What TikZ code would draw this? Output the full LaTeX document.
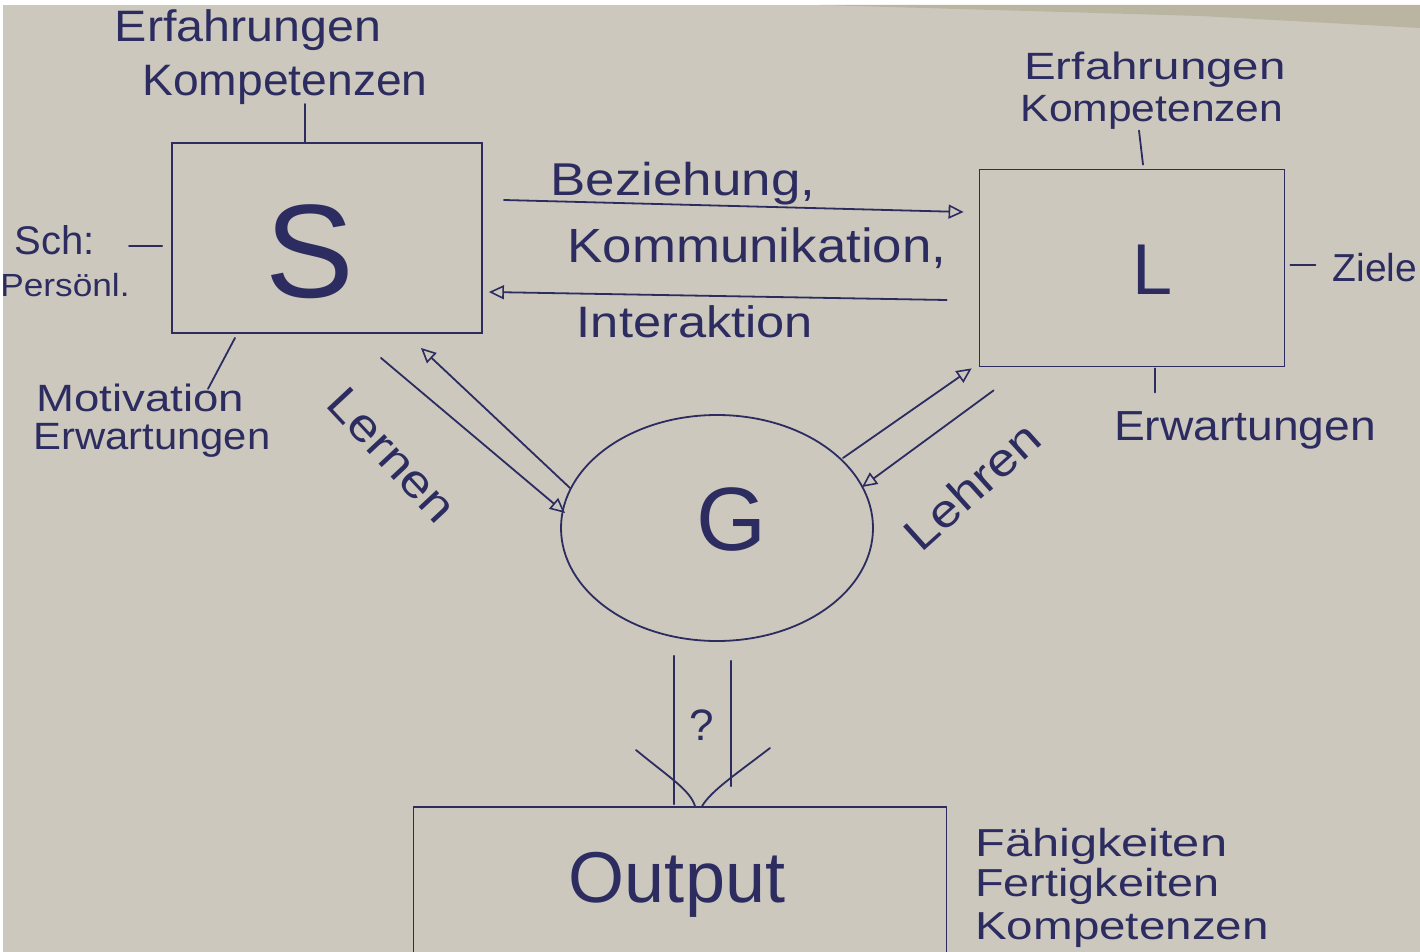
\documentclass[tikz,border=0pt]{standalone}
\usepackage{fontspec}
\usepackage{graphicx}
\setmainfont{Liberation Sans}
\usetikzlibrary{arrows.meta,shapes.geometric,calc}
\definecolor{paper}{RGB}{204,200,190}
\definecolor{edge}{RGB}{186,181,160}
\definecolor{ink}{RGB}{44,44,96}
\newcommand{\fs}[1]{\fontsize{#1}{#1}\selectfont}
\newcommand{\hs}[3]{\scalebox{#1}[1]{\fs{#2}#3}}
\tikzset{
  ink line/.style={draw=ink, line width=1.8pt, line cap=round},
  boxnode/.style={draw=ink, line width=1.8pt, inner sep=0pt},
  lbl/.style={text=ink, inner sep=0pt, anchor=center},
  arr/.style={ink line, -{Triangle[open, length=15pt, width=14pt, line width=1.6pt]}},
}
\begin{document}
\begin{tikzpicture}[x=1pt, y=-1pt]
\useasboundingbox (0,0) rectangle (1420,952);
\fill[white] (0,0) rectangle (1420,952);
\fill[paper] (3,5) rectangle (1420,952);
\fill[edge] (820,5) -- (1420,5) -- (1420,28) -- (1200,16) -- cycle;

% boxes
\node[boxnode, minimum width=310pt, minimum height=190pt] (S) at (327,238) {};
\node[lbl] (Stxt) at (310,252) {\fs{133}S};
\node[boxnode, minimum width=305pt, minimum height=197pt] (L) at (1132,268) {};
\node[lbl] (Ltxt) at (1153,270) {\fs{72}L};
\node[boxnode, ellipse, minimum width=312pt, minimum height=226pt] (G) at (717,528) {};
\node[lbl] (Gtxt) at (731,520) {\fs{90}G};
\node[boxnode, minimum width=533pt, minimum height=150pt] (O) at (680,882) {};
\node[lbl] (Otxt) at (677,885) {\fs{72}Output};

% S labels
\node[lbl] (se) at (248,30) {\hs{1.1}{44}{Erfahrungen}};
\node[lbl] (sk) at (285,85) {\hs{1.05}{44}{Kompetenzen}};
\draw[ink line] ($(S.north)+(-22,0)$) -- ++(0,-38);
\node[lbl] (sch) at (55,240) {\fs{40}Sch:};
\node[lbl] (sp) at (65,285) {\hs{1.1}{32}{Persönl.}};
\draw[ink line] ($(S.west)+(-9,8)$) -- ++(-33,0);
\node[lbl] (sm) at (140,398) {\hs{1.2}{38}{Motivation}};
\node[lbl] (sw) at (152,440) {\hs{1.1}{38}{Erwartungen}};
\draw[ink line] ($(S.south)+(-92,4)$) -- ($(S.south)+(-119,55)$);

% L labels
\node[lbl] (le) at (1155,70) {\hs{1.25}{38}{Erfahrungen}};
\node[lbl] (lk) at (1152,112) {\hs{1.12}{38}{Kompetenzen}};
\draw[ink line] ($(L.north)+(11,-4)$) -- ++(-4,-34);
\node[lbl] (lz) at (1375,268) {\fs{39}Ziele};
\draw[ink line] ($(L.east)+(5,-3)$) -- ++(25,0);
\node[lbl] (lw) at (1245,430) {\hs{1.1}{42}{Erwartungen}};
\draw[ink line] ($(L.south)+(23,1)$) -- ++(0,24);

% S <-> L
\draw[arr] ($(S.east)+(21,-38)$) -- ($(L.west)+(-15,-56)$);
\draw[arr] ($(L.west)+(-32,32)$) -- ($(S.east)+(6,54)$);
\node[lbl] (bz) at (683,184) {\hs{1.15}{46}{Beziehung,}};
\node[lbl] (km) at (757,248) {\hs{1.1}{48}{Kommunikation,}};
\node[lbl] (ia) at (695,322) {\hs{1.15}{44}{Interaktion}};

% S <-> G
\draw[arr] ($(G.center)+(-147,-40)$) -- ($(S.south east)+(-62,14)$);
\draw[arr] ($(S.south east)+(-102,24)$) -- ($(G.center)+(-152,-15)$);
\node[lbl, rotate=-47] (ln) at (392,455) {\hs{1.15}{46}{Lernen}};

% G <-> L
\draw[arr] ($(G.center)+(126,-70)$) -- ($(L.south west)+(-7,1)$);
\draw[arr] ($(L.south west)+(15,23)$) -- ($(G.center)+(145,-41)$);
\node[lbl, rotate=42] (lh) at (972,486) {\hs{1.15}{46}{Lehren}};

% G -> Output
\draw[ink line] ($(G.south)+(-43,14)$) -- ($(O.north)+(-6,-2)$);
\draw[ink line] ($(G.south)+(14,19)$) -- ($(O.north)+(51,-20)$);
\draw[ink line] (636,750) .. controls (670,778) and (690,790) .. ($(O.north)+(15,0)$);
\draw[ink line] (770,748) .. controls (735,775) and (712,790) .. ($(O.north)+(22,0)$);
\node[lbl] (q) at (702,725) {\fs{44}?};

% Output labels
\node[lbl, anchor=west] (of) at (975,846) {\hs{1.25}{39}{Fähigkeiten}};
\node[lbl, anchor=west] (ofe) at (975,886) {\hs{1.2}{39}{Fertigkeiten}};
\node[lbl, anchor=west] (ok) at (975,930) {\hs{1.22}{39}{Kompetenzen}};
\end{tikzpicture}
\end{document}
